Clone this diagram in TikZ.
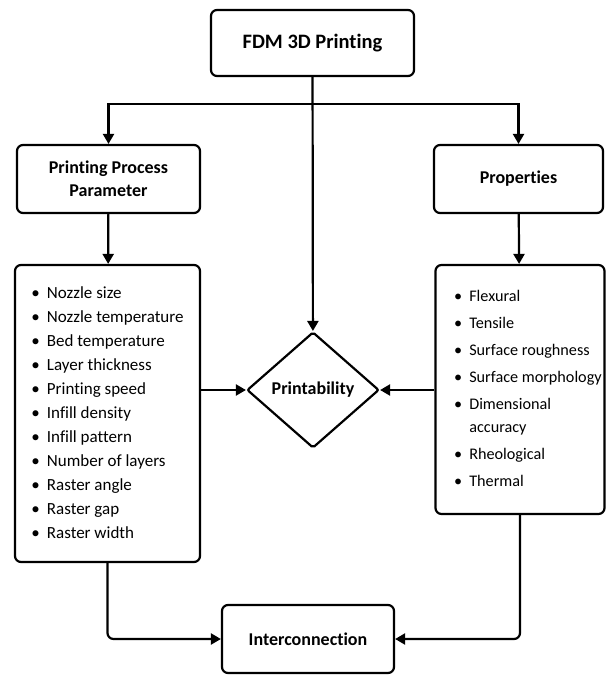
\documentclass[tikz,border=0pt]{standalone}
\usepackage{fontspec}
\setmainfont{Carlito}[Ligatures=NoCommon]
\usetikzlibrary{arrows.meta,shapes.geometric}

\tikzset{
    box/.style={draw, line width=2.2pt, rounded corners=6pt, align=center,
        font=\fontsize{18}{23}\selectfont\bfseries},
    listbox/.style={draw, line width=2.2pt, rounded corners=6pt, inner sep=0pt,
        font=\fontsize{17}{24}\selectfont},
    arr/.style={-{Triangle[length=10pt,width=11pt]}, line width=2.2pt},
}
\newcommand{\itm}{\textbullet\hspace{7pt}}

\begin{document}
\begin{tikzpicture}[x=1pt, y=-1pt]
    \useasboundingbox (0,0) rectangle (606,675);

    \node[box, minimum width=203pt, minimum height=66pt,
        font=\fontsize{20.5}{23}\selectfont\bfseries] (fdm) at (312.5,43) {FDM 3D Printing};
    \node[box, minimum width=183pt, minimum height=68pt] (ppp) at (108.5,179) {Printing Process\\Parameter};
    \node[box, minimum width=169pt, minimum height=68pt] (prop) at (518.5,179) {Properties};

    \node[listbox, minimum width=185pt, minimum height=297pt] (params) at (107.5,413.5) {%
        \begin{tabular}{@{}l@{}}
            \itm Nozzle size\\
            \itm Nozzle temperature\\
            \itm Bed temperature\\
            \itm Layer thickness\\
            \itm Printing speed\\
            \itm Infill density\\
            \itm Infill pattern\\
            \itm Number of layers\\
            \itm Raster angle\\
            \itm Raster gap\\
            \itm Raster width
        \end{tabular}};
    \node[listbox, minimum width=169pt, minimum height=249pt,
        font=\fontsize{16.2}{23}\selectfont] (props) at (520,389.5) {%
        \begin{tabular}{@{\hspace{16pt}}l@{\hspace{7pt}}l@{}}
            \textbullet & Flexural\\[4pt]
            \textbullet & Tensile\\[4pt]
            \textbullet & Surface roughness\\[4pt]
            \textbullet & Surface morphology\\[4pt]
            \textbullet & Dimensional\\
                        & accuracy\\[4pt]
            \textbullet & Rheological\\[4pt]
            \textbullet & Thermal
        \end{tabular}};

    \node[box, shape=diamond, rounded corners=2pt, inner sep=0pt,
        minimum width=132pt, minimum height=116pt] (print) at (313,390) {Printability};
    \node[box, minimum width=172pt, minimum height=68pt] (inter) at (308,639) {Interconnection};

    % top split
    \coordinate (split) at (312.5,104);
    \draw[arr] (fdm) -- (print);
    \draw[arr] (split) -| (ppp.north);
    \draw[arr] (split) -| (prop.north);
    \draw[arr] (ppp) -- (params);
    \draw[arr] (prop) -- (props);

    % into printability
    \draw[arr] (params.east |- print.west) -- (print.west);
    \draw[arr] (props.west |- print.east) -- (print.east);

    % down to interconnection
    \draw[arr, rounded corners=6pt] (params.south) |- (inter.west);
    \draw[arr, rounded corners=6pt] (props.south) |- (inter.east);
\end{tikzpicture}
\end{document}
